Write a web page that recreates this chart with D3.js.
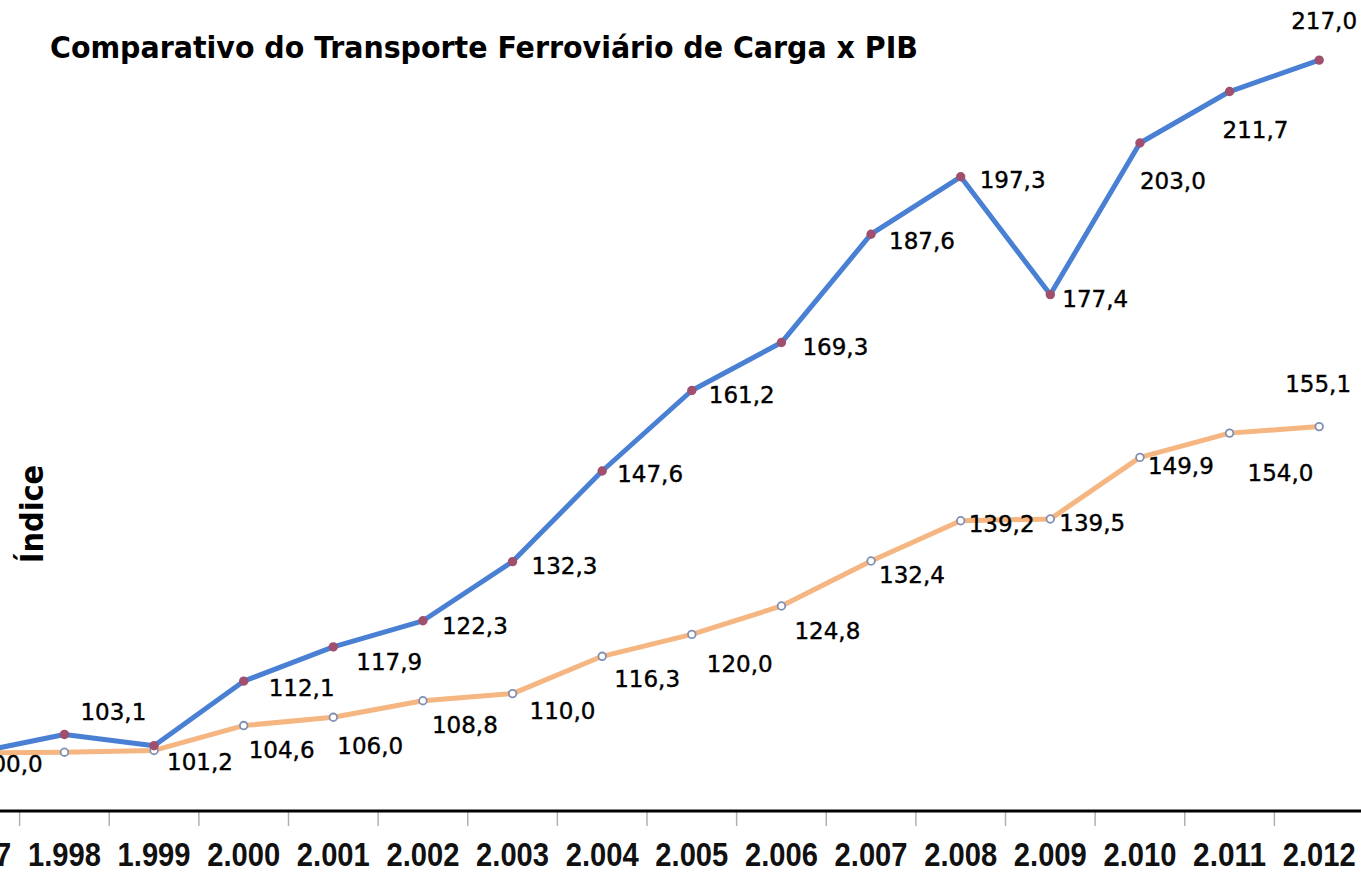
<!DOCTYPE html>
<html>

<head>
    <meta charset="utf-8" />
    <title>Comparativo do Transporte Ferroviário de Carga x PIB</title>
    <script src="https://d3js.org/d3.v7.min.js"></script>
    <style>
        body { margin: 0; background: #fff; }
        svg { display: block; }
    </style>
</head>

<body>
    <svg id="chart" width="1361" height="874"></svg>

    <script>

        // data
        var anos = [1997, 1998, 1999, 2000, 2001, 2002, 2003, 2004, 2005, 2006, 2007, 2008, 2009, 2010, 2011, 2012];
        var ferroviario = [100.0, 103.1, 101.2, 112.1, 117.9, 122.3, 132.3, 147.6, 161.2, 169.3, 187.6, 197.3, 177.4, 203.0, 211.7, 217.0];
        var pib = [100.0, 100.1, 100.4, 104.6, 106.0, 108.8, 110.0, 116.3, 120.0, 124.8, 132.4, 139.2, 139.5, 149.9, 154.0, 155.1];

        // label placement relative to each point [dx, dy], null = no label
        var ferroLabelPos = [[2, 11], [16, -22], [13, 16], [25, 7], [23, 15], [19, 5], [19, 4], [15, 3], [17, 5], [21, 4], [18, 7], [19, 3], [12, 4], [0, 38], [-7, 38], [-28, -39]];
        var pibLabelPos = [null, null, null, [5, 24], [4, 29], [9, 24], [17, 17], [12, 23], [15, 30], [13, 25], [8, 14], [8, 3], [9, 4], [8, 9], [18, 40], [-34, -43]];

        var W = 1361, H = 874;
        var svg = d3.select("#chart");

        var br = d3.formatLocale({ decimal: ",", thousands: ".", grouping: [3], currency: ["R$", ""] });
        var fmtAno = br.format(",d");
        var fmtVal = br.format(".1f");

        var x = d3.scaleBand()
            .domain(anos)
            .range([-70, 1364]);

        var y = d3.scaleLinear()
            .domain([90, 220])
            .range([812, 812 - 130 * 5.92]);

        function cx(i) { return x(anos[i]) + x.bandwidth() / 2; }

        // title
        svg.append("text")
            .attr("x", 50)
            .attr("y", 58)
            .attr("font-family", "'DejaVu Sans Condensed', 'DejaVu Sans'")
            .attr("font-weight", "bold")
            .attr("font-size", 31)
            .attr("textLength", 868)
            .attr("lengthAdjust", "spacingAndGlyphs")
            .text("Comparativo do Transporte Ferroviário de Carga x PIB");

        // y title
        svg.append("text")
            .attr("transform", "translate(43,514) rotate(-90)")
            .attr("text-anchor", "middle")
            .attr("font-family", "'DejaVu Sans Condensed', 'DejaVu Sans'")
            .attr("font-weight", "bold")
            .attr("font-size", 32)
            .text("Índice");

        // x axis
        var axis = svg.append("g").attr("class", "x-axis");

        axis.selectAll("line.tick")
            .data(anos)
            .enter().append("line")
            .attr("class", "tick")
            .attr("x1", function (d) { return x(d); })
            .attr("x2", function (d) { return x(d); })
            .attr("y1", 812)
            .attr("y2", 826)
            .attr("stroke", "#b0b0b0")
            .attr("stroke-width", 1.5);

        axis.append("line")
            .attr("x1", 0).attr("x2", W)
            .attr("y1", 811).attr("y2", 811)
            .attr("stroke", "#000")
            .attr("stroke-width", 3);

        axis.selectAll("text")
            .data(anos)
            .enter().append("text")
            .attr("x", function (d) { return x(d) + x.bandwidth() / 2 - 36.5; })
            .attr("y", 866)
            .attr("font-family", "'Liberation Sans Narrow', 'Liberation Sans'")
            .attr("font-weight", "bold")
            .attr("font-size", 34)
            .attr("textLength", 73)
            .attr("lengthAdjust", "spacingAndGlyphs")
            .attr("fill", "#111")
            .text(function (d) { return fmtAno(d); });

        function drawSeries(values, color, width, labelPos, markerFill, markerStroke) {
            var line = d3.line()
                .x(function (d, i) { return cx(i); })
                .y(function (d) { return y(d); });

            var g = svg.append("g");

            g.append("path")
                .datum(values)
                .attr("d", line)
                .attr("fill", "none")
                .attr("stroke", color)
                .attr("stroke-width", width)
                .attr("stroke-linejoin", "round");

            g.selectAll("circle")
                .data(values)
                .enter().append("circle")
                .attr("cx", function (d, i) { return cx(i); })
                .attr("cy", function (d) { return y(d); })
                .attr("r", 3.8)
                .attr("fill", markerFill)
                .attr("stroke", markerStroke)
                .attr("stroke-width", 1.8);

            g.selectAll("text")
                .data(values.map(function (v, i) { return { v: v, i: i, p: labelPos[i] }; })
                    .filter(function (d) { return d.p; }))
                .enter().append("text")
                .attr("x", function (d) { return cx(d.i) + d.p[0]; })
                .attr("y", function (d) { return y(d.v) + d.p[1] + 8; })
                .attr("font-family", "'DejaVu Sans'")
                .attr("font-size", 23)
                .attr("fill", "#000")
                .attr("stroke", "#000")
                .attr("stroke-width", 0.4)
                .text(function (d) { return fmtVal(d.v); });
        }

        drawSeries(pib, "#f5b682", 5, pibLabelPos, "#fff", "#8190b2");
        drawSeries(ferroviario, "#4a80d3", 5, ferroLabelPos, "#a0506e", "#a0506e");

    </script>

</body>

</html>
